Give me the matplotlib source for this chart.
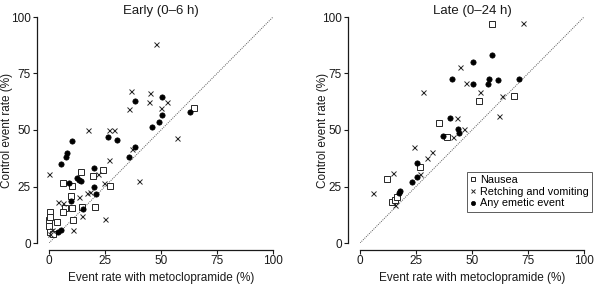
import matplotlib
matplotlib.use("Agg")
from matplotlib import pyplot as plt

plt.rcParams['font.family'] = ['Liberation Sans', 'DejaVu Sans']
plt.rcParams['font.size'] = 8.5

# Early (0-6 h) panel
early_nausea_x = [64.6, 14.4, 24.1, 19.8, 6.1, 10.1, 27.4, 9.7, 7.3, 10.1, 0.4, 6.4, 14.7, 20.5,
                  10.6, 0.1, 3.4, 0.1, 0.4, 1.6, 0.4]
early_nausea_y = [59.6, 31.6, 32.3, 29.6, 26.7, 25.2, 25.2, 21.0, 15.6, 15.3, 13.9, 13.9, 16.1, 16.1,
                  10.2, 10.2, 9.4, 7.5, 5.0, 3.8, 11.5]
early_retch_x = [47.6, 36.6, 45.2, 44.6, 52.5, 35.7, 50.0, 17.3, 26.8, 28.9, 36.9, 57.3, 40.4, 26.9,
                 21.7, 0.1, 24.6, 18.3, 16.8, 13.3, 4.2, 6.1, 14.6, 25.0, 1.2, 10.6, 0.4]
early_retch_y = [88.0, 67.3, 66.5, 62.4, 62.4, 59.2, 59.7, 50.0, 50.0, 50.0, 41.6, 46.6, 27.4, 36.7,
                 30.4, 30.5, 26.7, 22.7, 22.0, 20.2, 18.0, 17.6, 12.1, 10.5, 5.8, 5.8, 3.8]
early_any_x = [50.3, 38.4, 50.3, 49.0, 46.0, 10.3, 26.2, 30.2, 38.3, 62.8, 8.2, 7.4, 35.9, 5.4,
               20.1, 12.4, 13.5, 14.4, 8.9, 20.1, 20.8, 9.7, 15.0, 5.4, 4.2]
early_any_y = [64.7, 63.0, 56.6, 53.7, 51.5, 45.0, 47.0, 45.6, 42.3, 57.8, 40.0, 37.9, 37.9, 35.0,
               33.2, 28.6, 27.9, 27.4, 26.7, 24.9, 21.7, 18.7, 15.0, 5.8, 5.0]

# Late (0-24 h) panel
late_nausea_x = [58.9, 53.0, 68.6, 35.3, 39.0, 11.9, 26.8, 14.1, 15.6, 16.7]
late_nausea_y = [96.8, 62.8, 65.2, 53.0, 46.8, 28.2, 33.5, 18.3, 19.0, 20.2]
late_retch_x = [72.9, 44.6, 47.3, 28.3, 53.6, 63.5, 62.2, 43.2, 46.4, 41.7, 24.1, 32.3, 30.0, 5.9,
                14.9, 26.8, 15.6]
late_retch_y = [97.2, 78.0, 70.9, 66.8, 66.9, 65.2, 56.2, 55.5, 50.3, 47.0, 42.6, 40.4, 37.7, 22.3,
                30.8, 30.5, 16.8]
late_any_x = [58.8, 50.3, 41.2, 57.4, 61.5, 71.1, 50.3, 57.0, 40.3, 43.6, 44.3, 37.2, 25.3, 25.3,
              23.1, 17.9, 17.3]
late_any_y = [83.2, 80.0, 72.7, 72.6, 72.1, 72.6, 70.2, 70.2, 55.5, 50.4, 48.5, 47.2, 35.5, 29.3,
              27.1, 23.1, 22.3]

ticks = [0, 25, 50, 75, 100]
W, H = 595, 285
fig = plt.figure(figsize=(W / 100, H / 100), dpi=100)
ax1 = fig.add_axes([49 / W, 42 / H, 224 / W, 226 / H])
ax2 = fig.add_axes([360 / W, 42 / H, 224 / W, 226 / H])

panels = [
    (ax1, "Early (0\u20136 h)", early_nausea_x, early_nausea_y, early_retch_x, early_retch_y,
     early_any_x, early_any_y, -0.16),
    (ax2, "Late (0\u201324 h)", late_nausea_x, late_nausea_y, late_retch_x, late_retch_y,
     late_any_x, late_any_y, -0.14),
]

for ax, title, nx, ny, rx, ry, ex, ey, ylab_x in panels:
    ax.plot([0, 100], [0, 100], ls=(0, (1, 1.2)), lw=0.7, color='0.35', zorder=1)
    ax.plot(nx, ny, ls='none', marker='s', ms=4.0, mfc='white', mec='0.15', mew=0.7,
            label='Nausea', clip_on=False, zorder=3)
    ax.plot(rx, ry, ls='none', marker='x', ms=3.6, mec='0.15', mew=0.7,
            label='Retching and vomiting', clip_on=False, zorder=3)
    ax.plot(ex, ey, ls='none', marker='o', ms=3.8, mfc='black', mec='black', mew=0.5,
            label='Any emetic event', clip_on=False, zorder=4)
    ax.set_xlim(0, 100)
    ax.set_ylim(0, 100)
    ax.set_xticks(ticks)
    ax.set_yticks(ticks)
    for s in ['top', 'right']:
        ax.spines[s].set_visible(False)
    ax.spines['left'].set_position(('outward', 9))
    ax.spines['bottom'].set_position(('outward', 5))
    ax.spines['left'].set_bounds(0, 100)
    ax.spines['bottom'].set_bounds(0, 100)
    for s in ['left', 'bottom']:
        ax.spines[s].set_linewidth(0.9)
        ax.spines[s].set_color('0.1')
    ax.tick_params(direction='out', length=3, width=0.8, color='0.1', labelsize=8.5,
                   labelcolor='0.1', pad=1)
    ax.set_title(title, fontsize=9.5, pad=1, color='0.1')
    ax.set_xlabel('Event rate with metoclopramide (%)', fontsize=8.5, color='0.1')
    ax.set_ylabel('Control event rate (%)', fontsize=8.5, color='0.1')
    ax.xaxis.set_label_coords(0.5, -0.13)
    ax.yaxis.set_label_coords(ylab_x, 0.5)

leg = ax2.legend(loc='upper left', bbox_to_anchor=(467 / W, 1 - 172 / H),
                 bbox_transform=fig.transFigure, fontsize=7.8, frameon=True, fancybox=False,
                 edgecolor='0.2', handlelength=0.5, handletextpad=0.4, borderpad=0.3,
                 labelspacing=0.15, borderaxespad=0, markerscale=0.8)
leg.get_frame().set_linewidth(0.7)

plt.savefig("out.png", dpi=100)
